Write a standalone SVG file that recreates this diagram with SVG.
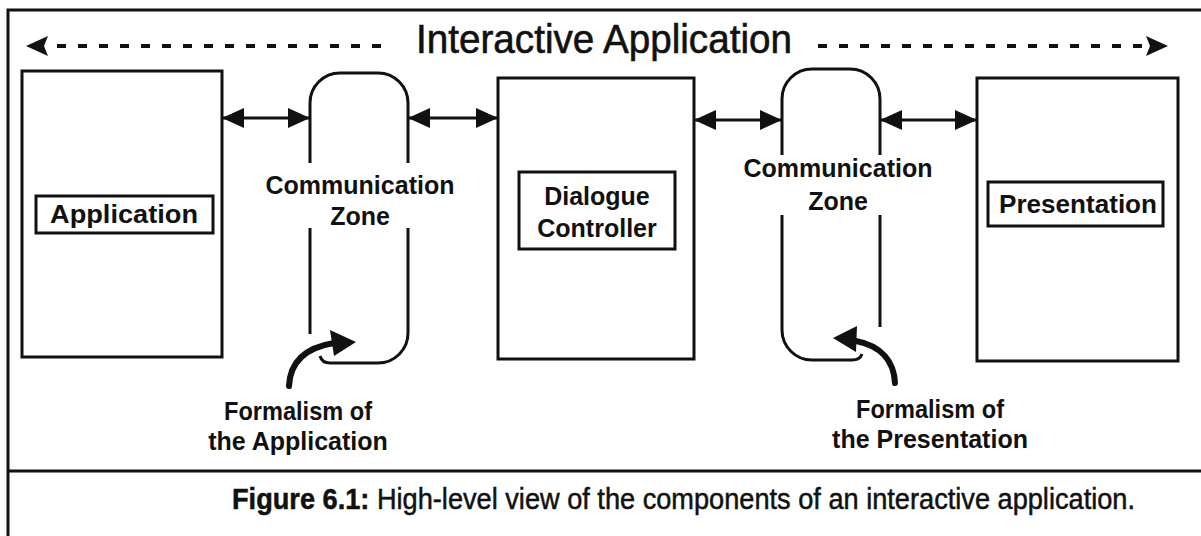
<svg xmlns="http://www.w3.org/2000/svg" width="1201" height="536" viewBox="0 0 1201 536">
<style>
.ln{fill:none;stroke:#111;stroke-width:3}
.bx{fill:#fff;stroke:#111;stroke-width:3}
.lbl{font-family:"Liberation Sans",Arial,sans-serif;font-weight:bold;font-size:25px;fill:#111;text-anchor:middle}
.ttl{font-family:"Liberation Sans",Arial,sans-serif;font-size:40px;fill:#111;stroke:#111;stroke-width:0.6}
.cap{font-family:"Liberation Sans",Arial,sans-serif;font-size:29px;fill:#111;stroke:#111;stroke-width:0.5}
.dot{fill:none;stroke:#111;stroke-width:4;stroke-dasharray:9 12}
.thick{fill:none;stroke:#111;stroke-width:6;stroke-linecap:round}
</style>
<defs>
<marker id="ah" viewBox="0 0 22 20" refX="21" refY="10" markerWidth="22" markerHeight="20" markerUnits="userSpaceOnUse" orient="auto-start-reverse">
<path d="M0,0 L22,10 L0,20 z" fill="#111"/>
</marker>
</defs>
<rect width="1201" height="536" fill="#fff"/>
<g id="frame">
<path class="ln" d="M8,536 V10 H1201"/>
<path class="ln" d="M8,471 H1201" stroke-width="4"/>
</g>
<g id="title">
<text class="ttl" x="416" y="53" textLength="376" lengthAdjust="spacingAndGlyphs">Interactive Application</text>
</g>
<g id="application">
<rect class="bx" x="22" y="71" width="200" height="286"/>
<rect class="bx" x="36" y="196" width="177" height="37"/>
<text class="lbl" x="124" y="223" textLength="148" lengthAdjust="spacingAndGlyphs">Application</text>
</g>
<g id="comm1">
<path class="ln" d="M310,163 V103 A30,30 0 0 1 340,73 H378 A30,30 0 0 1 408,103 V163"/>
<path class="ln" d="M310,228 V334"/>
<path class="ln" d="M408,228 V333 A30,30 0 0 1 378,363 H330 Q322,363 320,356"/>
<text class="lbl" x="360" y="194">Communication</text>
<text class="lbl" x="360" y="225">Zone</text>
</g>
<g id="dialogue">
<rect class="bx" x="498" y="78" width="196" height="281"/>
<rect class="bx" x="519" y="172" width="156" height="77"/>
<text class="lbl" x="597" y="205">Dialogue</text>
<text class="lbl" x="597" y="237">Controller</text>
</g>
<g id="comm2">
<path class="ln" d="M782,155 V99 A30,30 0 0 1 812,69 H850 A30,30 0 0 1 880,99 V155"/>
<path class="ln" d="M880,215 V327"/>
<path class="ln" d="M782,215 V330 A30,30 0 0 0 812,360 H852 Q860,360 862,354"/>
<text class="lbl" x="838" y="177">Communication</text>
<text class="lbl" x="838" y="210">Zone</text>
</g>
<g id="presentation">
<rect class="bx" x="977" y="78" width="201" height="283"/>
<rect class="bx" x="988" y="182" width="175" height="44"/>
<text class="lbl" x="1078" y="213" textLength="158" lengthAdjust="spacingAndGlyphs">Presentation</text>
</g>
<g id="connectors">
<line class="dot" x1="381" y1="46" x2="48" y2="46"/>
<path d="M26,46 L48,36 L44,46 L48,56 z" fill="#111"/>
<line class="dot" x1="818" y1="46" x2="1146" y2="46"/>
<path d="M1168,46 L1146,36 L1150,46 L1146,56 z" fill="#111"/>
<line class="ln" x1="223" y1="118" x2="309" y2="118" marker-start="url(#ah)" marker-end="url(#ah)"/>
<line class="ln" x1="409" y1="118" x2="497" y2="118" marker-start="url(#ah)" marker-end="url(#ah)"/>
<line class="ln" x1="695" y1="120" x2="781" y2="120" marker-start="url(#ah)" marker-end="url(#ah)"/>
<line class="ln" x1="881" y1="120" x2="976" y2="120" marker-start="url(#ah)" marker-end="url(#ah)"/>
<path class="thick" d="M289,386 C290,364 303,348 334,343"/>
<path d="M356,342 L330,330 L334,356 z" fill="#111"/>
<path class="thick" d="M895,383 C894,362 882,346 856,341"/>
<path d="M833,338 L857,326 L856,352 z" fill="#111"/>
</g>
<g id="labels">
<text class="lbl" x="298" y="420" textLength="148" lengthAdjust="spacingAndGlyphs">Formalism of</text>
<text class="lbl" x="298" y="450">the Application</text>
<text class="lbl" x="930" y="418" textLength="148" lengthAdjust="spacingAndGlyphs">Formalism of</text>
<text class="lbl" x="930" y="448">the Presentation</text>
</g>
<g id="caption">
<text class="cap" x="232" y="509" textLength="903" lengthAdjust="spacingAndGlyphs"><tspan font-weight="bold">Figure 6.1:</tspan>  High-level view of the components of an interactive application.</text>
</g>
</svg>
